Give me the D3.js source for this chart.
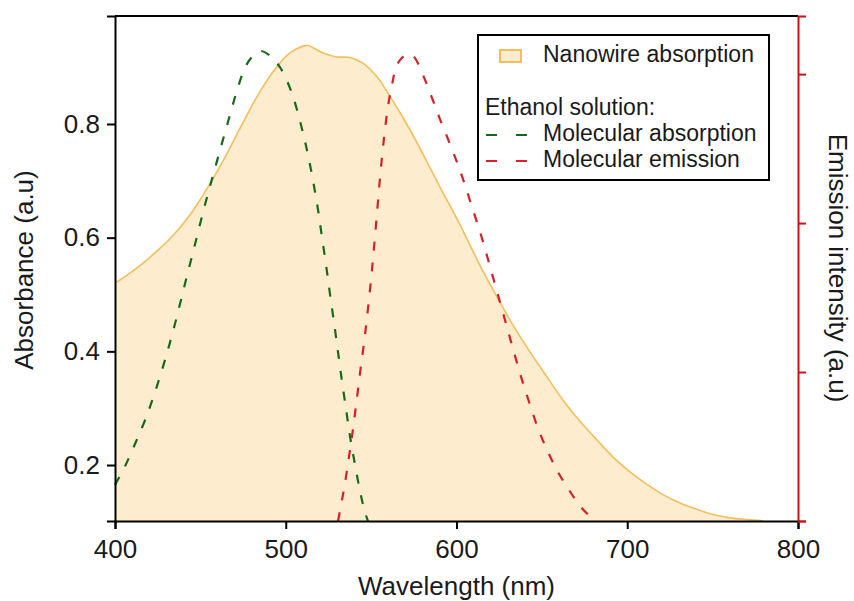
<!DOCTYPE html>
<html>
<head>
<meta charset="utf-8">
<script src="https://cdn.jsdelivr.net/npm/d3@7"></script>
<style>
  body { margin: 0; background: #fff; }
  text { font-family: "Liberation Sans", Arial, sans-serif; fill: #1a1a1a; }
</style>
</head>
<body>
<div class="chart"></div>
<script>
// nanowire absorption (left axis)
var nanoWl = [400, 408, 416.4, 424, 432.2, 443.9, 455.6, 465.6, 475.0, 484.9, 494.9, 502.5, 510.1, 513, 521.8, 530.0, 537.6, 545.2, 553.4, 561.0, 568.7, 576.9, 584.5, 592.1, 600.3, 607.9, 615.5, 623.7, 633.1, 643.0, 653.0, 662.4, 672.3, 682.3, 691.7, 701.6, 711.6, 720.9, 730.9, 740.8, 750.2, 760.2, 770.1, 779.5];
var nanoAbs = [0.520, 0.536, 0.555, 0.575, 0.598, 0.640, 0.695, 0.748, 0.803, 0.857, 0.901, 0.925, 0.937, 0.938, 0.925, 0.918, 0.917, 0.907, 0.883, 0.849, 0.811, 0.767, 0.723, 0.679, 0.633, 0.587, 0.541, 0.496, 0.446, 0.399, 0.355, 0.314, 0.277, 0.244, 0.214, 0.188, 0.166, 0.148, 0.133, 0.122, 0.113, 0.107, 0.104, 0.102];

// molecular absorption in ethanol (left axis)
var molWl = [400.0, 405.9, 411.7, 417.6, 423.4, 429.3, 435.1, 441.0, 446.9, 452.7, 456.8, 461.5, 466.2, 470.9, 476.1, 480.2, 483.7, 486.1, 490.8, 496.6, 502.5, 506.6, 510.1, 513.0, 516.0, 518.9, 521.2, 523.6, 525.9, 528.3, 530.6, 532.9, 535.3, 537.6, 540.6, 543.5, 546.4, 548.2];
var molAbs = [0.165, 0.198, 0.237, 0.279, 0.328, 0.385, 0.448, 0.519, 0.589, 0.658, 0.703, 0.754, 0.804, 0.853, 0.899, 0.918, 0.926, 0.928, 0.920, 0.900, 0.863, 0.825, 0.784, 0.746, 0.700, 0.649, 0.601, 0.552, 0.501, 0.450, 0.399, 0.348, 0.299, 0.251, 0.200, 0.154, 0.117, 0.101];

// molecular emission in ethanol (right axis, arbitrary units)
var emWl = [530.6, 532.4, 534.2, 536.5, 538.9, 541.2, 543.5, 545.9, 548.2, 550.6, 552.9, 555.2, 557.6, 559.9, 562.3, 564.6, 566.9, 569.8, 572.8, 575.7, 580.4, 585.7, 590.3, 596.2, 600.9, 605.0, 609.1, 613.8, 617.9, 622.0, 626.1, 630.2, 634.3, 638.4, 642.5, 647.7, 653.6, 659.4, 665.9, 672.9, 679.9, 681.7];
var emInt = [0, 0.107, 0.221, 0.389, 0.577, 0.779, 0.993, 1.201, 1.430, 1.698, 1.993, 2.302, 2.577, 2.785, 2.933, 3.047, 3.094, 3.125, 3.134, 3.107, 2.993, 2.839, 2.698, 2.530, 2.389, 2.255, 2.107, 1.940, 1.779, 1.611, 1.443, 1.275, 1.107, 0.946, 0.799, 0.624, 0.463, 0.329, 0.208, 0.094, 0.013, 0];

var xTicks = [400, 500, 600, 700, 800];
var yTicks = [0.2, 0.4, 0.6, 0.8];
var emTicks = [0, 1, 2, 3];

var legendLabels = ["Nanowire absorption", "Ethanol solution:", "Molecular absorption", "Molecular emission"];

var svgWidth = 854;
var svgHeight = 601;
var margin = { top: 16, right: 56, bottom: 80, left: 115 };
var width = svgWidth - margin.left - margin.right;
var height = svgHeight - margin.top - margin.bottom;

var orangeFill = "#fdeccd";
var orangeLine = "#f2bf5c";
var green = "#17691a";
var red = "#d5202a";
var axisRed = "#c4161c";

var svg = d3.select(".chart")
  .append("svg")
  .attr("width", svgWidth)
  .attr("height", svgHeight);

var chart = svg.append("g")
  .attr("transform", "translate(" + margin.left + "," + margin.top + ")");

var x = d3.scaleLinear().domain([400, 800]).range([0, width]);
var y = d3.scaleLinear().domain([0.1015, 0.99]).range([height, 0]);
var yEm = d3.scaleLinear().domain([0, 3.39]).range([height, 0]);

var smooth = d3.curveCatmullRom.alpha(0.5);

var nano = nanoWl.map(function(w, i) { return [w, nanoAbs[i]]; });
var mol = molWl.map(function(w, i) { return [w, molAbs[i]]; });
var em = emWl.map(function(w, i) { return [w, emInt[i]]; });

// nanowire absorption band
var area = d3.area()
  .x(function(d) { return x(d[0]); })
  .y0(height)
  .y1(function(d) { return y(d[1]); })
  .curve(smooth);

chart.append("path")
  .datum(nano)
  .attr("d", area)
  .attr("fill", orangeFill);

chart.append("path")
  .datum(nano)
  .attr("d", d3.line()
    .x(function(d) { return x(d[0]); })
    .y(function(d) { return y(d[1]); })
    .curve(smooth))
  .attr("fill", "none")
  .attr("stroke", orangeLine)
  .attr("stroke-width", 1.6);

// dashed molecular curves
chart.append("path")
  .datum(mol)
  .attr("d", d3.line()
    .x(function(d) { return x(d[0]); })
    .y(function(d) { return y(d[1]); })
    .curve(smooth))
  .attr("fill", "none")
  .attr("stroke", green)
  .attr("stroke-width", 2.2)
  .attr("stroke-dasharray", "9,12");

chart.append("path")
  .datum(em)
  .attr("d", d3.line()
    .x(function(d) { return x(d[0]); })
    .y(function(d) { return yEm(d[1]); })
    .curve(smooth))
  .attr("fill", "none")
  .attr("stroke", red)
  .attr("stroke-width", 2.2)
  .attr("stroke-dasharray", "9,12");

// top frame line
chart.append("line")
  .attr("x1", 0).attr("x2", width)
  .attr("y1", 0).attr("y2", 0)
  .attr("stroke", "#000")
  .attr("stroke-width", 2);

var bottomAxis = d3.axisBottom(x).tickValues(xTicks).tickSize(8).tickPadding(6);
var leftAxis = d3.axisLeft(y).tickValues(yTicks).tickFormat(d3.format(".1f")).tickSize(8).tickPadding(7);
var rightAxis = d3.axisRight(yEm).tickValues(emTicks).tickSize(8).tickFormat("");

var gx = chart.append("g")
  .attr("transform", "translate(0," + height + ")")
  .call(bottomAxis);

var gy = chart.append("g")
  .call(leftAxis);

var gr = chart.append("g")
  .attr("transform", "translate(" + width + ",0)")
  .call(rightAxis);

[gx, gy].forEach(function(g) {
  g.select(".domain").attr("stroke", "#000").attr("stroke-width", 2);
  g.selectAll(".tick line").attr("stroke", "#000").attr("stroke-width", 2);
  g.selectAll(".tick text")
    .style("font-family", "Liberation Sans, Arial, sans-serif")
    .style("font-size", "26px")
    .attr("fill", "#1a1a1a");
});
gx.selectAll(".tick text").attr("dy", "0.9em");
gr.select(".domain").attr("stroke", axisRed).attr("stroke-width", 2);
gr.selectAll(".tick line").attr("stroke", axisRed).attr("stroke-width", 2);

// axis titles
chart.append("text")
  .attr("transform", "translate(" + (width / 2) + "," + (height + 74) + ")")
  .attr("text-anchor", "middle")
  .style("font-size", "26px")
  .text("Wavelength (nm)");

chart.append("text")
  .attr("transform", "translate(" + (33 - margin.left) + "," + (270 - margin.top) + ") rotate(-90)")
  .attr("text-anchor", "middle")
  .style("font-size", "26px")
  .text("Absorbance (a.u)");

chart.append("text")
  .attr("transform", "translate(" + (829 - margin.left) + "," + (268 - margin.top) + ") rotate(90)")
  .attr("text-anchor", "middle")
  .style("font-size", "26px")
  .text("Emission intensity (a.u)");

// legend
var legend = svg.append("g");

legend.append("rect")
  .attr("x", 478).attr("y", 35)
  .attr("width", 291).attr("height", 145)
  .attr("fill", "#fff")
  .attr("stroke", "#000")
  .attr("stroke-width", 2);

legend.append("rect")
  .attr("x", 500).attr("y", 50)
  .attr("width", 21).attr("height", 12)
  .attr("fill", orangeFill)
  .attr("stroke", orangeLine)
  .attr("stroke-width", 2);

legend.append("text").attr("x", 543).attr("y", 62).style("font-size", "23px").text(legendLabels[0]);
legend.append("text").attr("x", 485).attr("y", 115).style("font-size", "23px").text(legendLabels[1]);
legend.append("text").attr("x", 543).attr("y", 141).style("font-size", "23px").text(legendLabels[2]);
legend.append("text").attr("x", 543).attr("y", 167).style("font-size", "23px").text(legendLabels[3]);

[[135, green], [161, red]].forEach(function(s) {
  legend.append("line")
    .attr("x1", 486).attr("x2", 528)
    .attr("y1", s[0]).attr("y2", s[0])
    .attr("stroke", s[1])
    .attr("stroke-width", 2)
    .attr("stroke-dasharray", "11,19");
});
</script>
</body>
</html>
